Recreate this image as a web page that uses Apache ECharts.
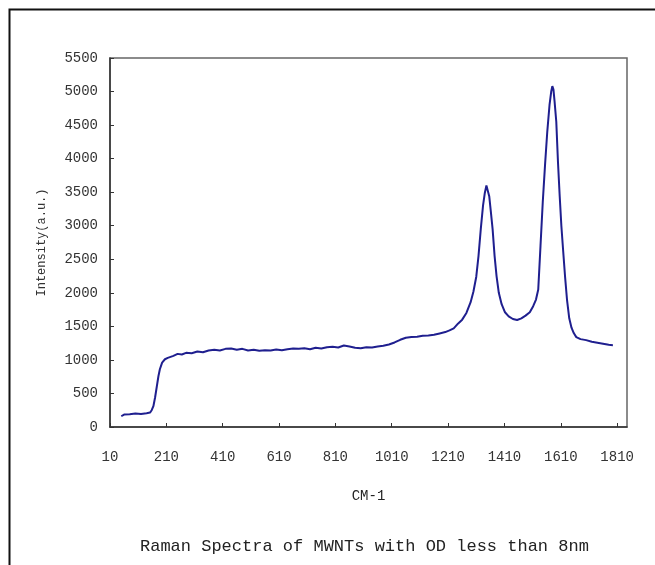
<!DOCTYPE html>
<html>
<head>
<meta charset="utf-8">
<script src="https://cdn.jsdelivr.net/npm/echarts@6/dist/echarts.min.js"></script>
<style>
  html, body { margin: 0; padding: 0; background: #fff; }
  #main { width: 655px; height: 565px; }
</style>
</head>
<body>
<div id="main"></div>
<script>
// wavenumber (cm-1) and intensity (a.u.)
var wavenumbers = [50, 60, 80, 100, 120, 140, 152, 158, 164, 170, 176, 182, 187, 195, 205, 215, 225, 235, 250, 265,
  280, 300, 320, 340, 360, 380, 400, 420, 440, 460, 480, 500, 520, 540, 560, 580, 600, 620, 640, 660,
  680, 700, 720, 740, 760, 780, 800, 820, 840, 860, 880, 900, 920, 940, 960, 980, 1000, 1020, 1040, 1060,
  1080, 1100, 1120, 1140, 1160, 1180, 1200, 1215, 1230, 1245, 1260, 1275, 1290, 1300, 1310, 1318, 1326, 1334, 1340, 1346,
  1350, 1356, 1362, 1368, 1375, 1382, 1390, 1400, 1412, 1425, 1440, 1455, 1470, 1485, 1500, 1512, 1522, 1530, 1538, 1546,
  1554, 1562, 1570, 1576, 1580, 1584, 1588, 1594, 1600, 1606, 1612, 1618, 1625, 1632, 1640, 1648, 1656, 1665, 1680, 1700,
  1720, 1740, 1760, 1780, 1795];
var intensity = [160, 185, 190, 200, 195, 205, 215, 250, 310, 440, 600, 760, 860, 960, 1010, 1030, 1045, 1060, 1090, 1080,
  1105, 1100, 1125, 1115, 1140, 1150, 1140, 1165, 1170, 1150, 1165, 1140, 1150, 1135, 1145, 1140, 1155, 1145, 1160, 1170,
  1165, 1175, 1160, 1180, 1170, 1190, 1195, 1185, 1215, 1200, 1180, 1175, 1190, 1185, 1200, 1210, 1230, 1260, 1300, 1330,
  1340, 1345, 1360, 1365, 1375, 1395, 1415, 1440, 1470, 1540, 1600, 1700, 1860, 2020, 2240, 2550, 2950, 3300, 3480, 3600,
  3580, 3440, 3200, 2950, 2550, 2250, 2000, 1830, 1710, 1650, 1610, 1595, 1620, 1660, 1710, 1800, 1900, 2050, 2700, 3350,
  3900, 4400, 4800, 5000, 5080, 5030, 4850, 4550, 3950, 3450, 3000, 2650, 2250, 1900, 1620, 1480, 1400, 1340, 1310, 1295,
  1270, 1255, 1240, 1225, 1220];

var chart = echarts.init(document.getElementById("main"));

var points = wavenumbers.map(function (w, i) {
  return [w, intensity[i]];
});

var mono = "Liberation Mono";
var plain = function (v) { return String(v); };

chart.setOption({
  backgroundColor: "#ffffff",
  animation: false,
  title: {
    text: "Raman Spectra of MWNTs with OD less than 8nm",
    left: 135,
    top: 533,
    textStyle: {
      fontFamily: mono,
      fontSize: 17,
      fontWeight: "normal",
      color: "#222",
    },
  },
  graphic: [
    {
      type: "rect",
      shape: { x: 9.5, y: 9.5, width: 700, height: 700 },
      style: { fill: null, stroke: "#111", lineWidth: 2 },
      silent: true,
    },
  ],
  grid: {
    left: 110,
    right: 28,
    top: 58,
    bottom: 138,
    show: true,
    borderColor: "#666",
    borderWidth: 1.5,
  },
  xAxis: {
    type: "value",
    min: 10,
    max: 1845,
    interval: 200,
    name: "CM-1",
    nameLocation: "middle",
    nameGap: 62,
    nameTextStyle: { fontFamily: mono, fontSize: 14, color: "#222" },
    axisLine: { lineStyle: { color: "#333", width: 1.5 } },
    axisTick: { inside: true, length: 4, lineStyle: { color: "#333" } },
    axisLabel: {
      fontFamily: mono,
      fontSize: 14,
      color: "#333",
      margin: 23,
      showMaxLabel: false,
      formatter: plain,
    },
    splitLine: { show: false },
  },
  yAxis: {
    type: "value",
    min: 0,
    max: 5500,
    interval: 500,
    name: "Intensity(a.u.)",
    nameLocation: "middle",
    nameGap: 62,
    nameTextStyle: { fontFamily: mono, fontSize: 12, color: "#333" },
    axisLine: { show: true, lineStyle: { color: "#333", width: 1.5 } },
    axisTick: { show: true, inside: true, length: 4, lineStyle: { color: "#333" } },
    axisLabel: {
      fontFamily: mono,
      fontSize: 14,
      color: "#333",
      margin: 12,
      formatter: plain,
    },
    splitLine: { show: false },
  },
  series: [
    {
      type: "line",
      data: points,
      showSymbol: false,
      smooth: false,
      lineStyle: { color: "#1f1f8f", width: 2 },
    },
  ],
});
</script>
</body>
</html>
